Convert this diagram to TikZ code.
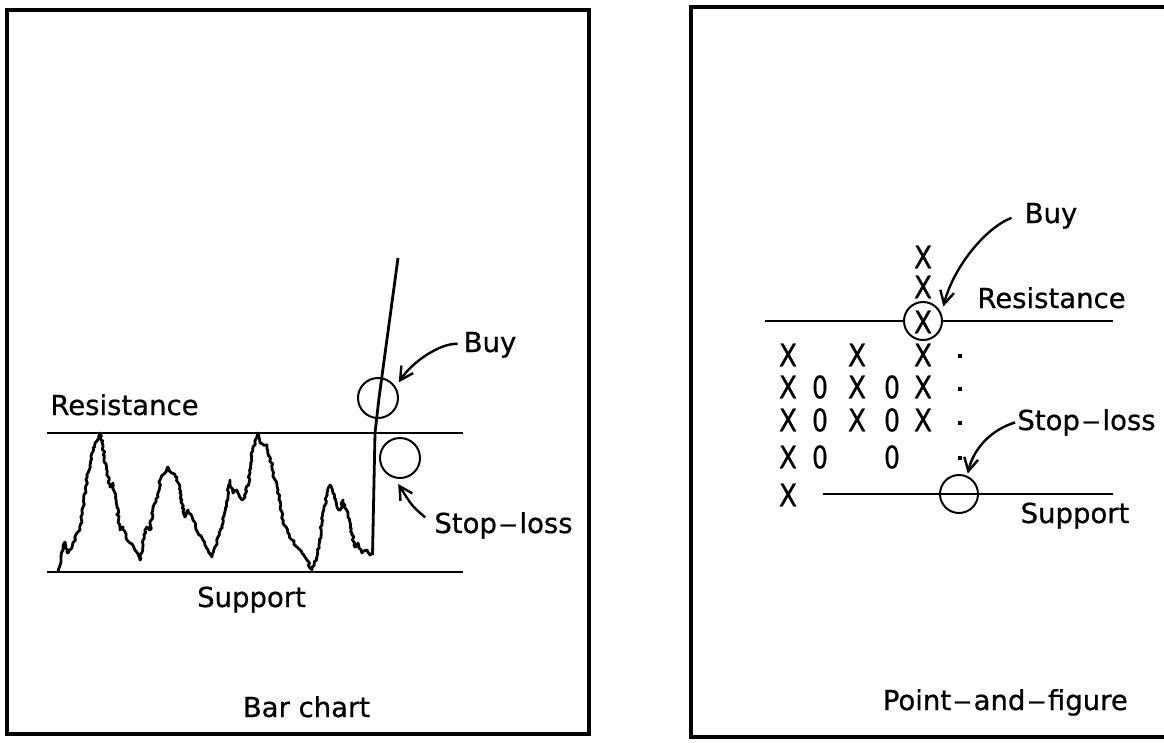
\documentclass[tikz,border=0pt]{standalone}
\usepackage{fontspec}
\usepackage{graphicx}
\setmainfont{DejaVu Sans}
\newfontfamily\lblfont{DejaVu Sans}[FakeBold=0.7]
\newcommand{\ldash}{\kern2pt\scalebox{1.35}[1]{–}\kern2pt}
\usetikzlibrary{arrows.meta,calc,decorations.pathmorphing}
\begin{document}
\begin{tikzpicture}[x=1pt,y=-1pt,
  lbl/.style={font=\lblfont\fontsize{27.5}{30}\selectfont, inner sep=0pt, anchor=base},
  frame/.style={line width=3.4pt},
  level/.style={line width=2.6pt},
  ring/.style={circle, draw, line width=2pt, minimum size=40pt, inner sep=0pt},
  arr/.style={line width=2.4pt, -{Straight Barb[length=13pt,width=14pt,line width=2.4pt]}},
  pf/.style={font=\lblfont\fontsize{31}{31}\selectfont, inner sep=0pt},
  pdot/.style={fill, minimum size=4.5pt, inner sep=0pt},
  price/.style={line width=2.8pt, line join=round, decorate, decoration={random steps, segment length=2.5pt, amplitude=1.2pt}},
]
\useasboundingbox (0,0) rectangle (1164,742);
\pgfmathsetseed{11}
% ---------- frames
\draw[frame] (7,10) rectangle (589,734);
\draw[frame] (691,7) rectangle (1200,737);

% ---------- bar chart
\draw[level] (47,433) -- (463,433);
\draw[level] (47,572) -- (463,572);
\draw[price] (58,572) -- (65,542) -- (68,553) -- (72,547) -- (77,533) -- (80,530) -- (83,507) -- (88,473) -- (92,453) -- (95,443) -- (100,433)
 -- (103,447) -- (107,473) -- (110,487) -- (113,483) -- (117,507) -- (120,530) -- (123,527) -- (127,540) -- (130,543) -- (135,550) -- (140,560)
 -- (143,540) -- (147,527) -- (150,530) -- (153,507) -- (158,497) -- (160,480) -- (165,473) -- (168,467) -- (172,473) -- (177,477) -- (180,493)
 -- (185,517) -- (188,510) -- (193,520) -- (198,533) -- (203,540) -- (208,550) -- (212,557) -- (215,547) -- (218,537) -- (223,523) -- (230,480)
 -- (233,493) -- (237,490) -- (242,500) -- (245,497) -- (250,473) -- (253,447) -- (257,437) -- (258,433) -- (260,443) -- (267,445) -- (270,457)
 -- (275,480) -- (278,490) -- (283,523) -- (288,533) -- (292,540) -- (297,547) -- (302,553) -- (307,560) -- (312,570) -- (317,557) -- (322,523)
 -- (327,493) -- (330,485) -- (333,493) -- (337,507) -- (340,510) -- (343,500) -- (348,517) -- (352,533) -- (355,547) -- (358,543) -- (362,553)
 -- (367,550) -- (370,555) -- (372.5,553);
\draw[line width=2.8pt, line join=round] (372.5,555) -- (375,433) -- (379,398) -- (398,258);

\node[ring] (bc1) at (378,398) {};
\node[ring] (sc1) at (400,458) {};

\node[lbl] (res1) at (124.5,415) {Resistance};
\node[lbl] (sup1) at (251.5,607) {Support};
\node[lbl] (cap1) at (306.5,717) {Bar chart};
\node[lbl] (buy1) at (490,352) {Buy};
\node[lbl] (stop1) at (503.5,533) {Stop\ldash loss};

\draw[arr] ($(buy1.west)+(-6,-1)$) .. controls (440,343) and (412,362) .. ($(bc1.37)+(4,-3)$);
\draw[arr] ($(stop1.west)+(-9,-8)$) .. controls (412,506) .. ($(sc1.-95)+(0,5)$);

% ---------- point and figure
\node[ring, minimum size=38pt] (pbuy) at (923,321) {};
\node[ring, minimum size=38pt] (pstop) at (959,494) {};
\draw[level] (765,321) -- (pbuy.west);
\draw[level] (pbuy.east) -- (1113,321);
\draw[level] (823,494) -- (1113,494);

% column 5 (top)
\node[pf] (xa5) at (923,257) {\scalebox{0.85}[1]{X}};
\node[pf] (xb5) at (923,287) {\scalebox{0.85}[1]{X}};
\node[pf] (xc5) at (923,322) {\scalebox{0.85}[1]{X}};
% row D
\node[pf] (xd1) at (788,355) {\scalebox{0.85}[1]{X}};
\node[pf] (xd3) at (857,355) {\scalebox{0.85}[1]{X}};
\node[pf] (xd5) at (923,355) {\scalebox{0.85}[1]{X}};
\node[pdot] (dd) at (960,356) {};
% row E
\node[pf] (xe1) at (788,387) {\scalebox{0.85}[1]{X}};
\node[pf] (oe2) at (820,387) {\scalebox{0.8}[1]{0}};
\node[pf] (xe3) at (857,387) {\scalebox{0.85}[1]{X}};
\node[pf] (oe4) at (892,387) {\scalebox{0.8}[1]{0}};
\node[pf] (xe5) at (923,387) {\scalebox{0.85}[1]{X}};
\node[pdot] (de) at (960,389) {};
% row F
\node[pf] (xf1) at (788,420) {\scalebox{0.85}[1]{X}};
\node[pf] (of2) at (820,420) {\scalebox{0.8}[1]{0}};
\node[pf] (xf3) at (857,420) {\scalebox{0.85}[1]{X}};
\node[pf] (of4) at (892,420) {\scalebox{0.8}[1]{0}};
\node[pf] (xf5) at (923,420) {\scalebox{0.85}[1]{X}};
\node[pdot] (df) at (960,423) {};
% row G
\node[pf] (xg1) at (788,457) {\scalebox{0.85}[1]{X}};
\node[pf] (og2) at (820,457) {\scalebox{0.8}[1]{0}};
\node[pf] (og4) at (892,457) {\scalebox{0.8}[1]{0}};
\node[pdot] (dg) at (960,458) {};
% row H
\node[pf] (xh1) at (788,495) {\scalebox{0.85}[1]{X}};

\node[lbl] (buy2) at (1051,223) {Buy};
\node[lbl] (res2) at (1051.5,308) {Resistance};
\node[lbl] (stop2) at (1086.5,430) {Stop\ldash loss};
\node[lbl] (sup2) at (1075,523) {Support};
\node[lbl, anchor=base east] (cap2) at (1128,710) {Point\ldash and\ldash figure};

\draw[arr] ($(buy2.west)+(-13,2)$) .. controls (985,228) and (953,268) .. ($(pbuy.35)+(4,-3)$);
\draw[arr] ($(stop2.west)+(-2,0)$) .. controls (990,430) and (973,450) .. ($(pstop.67)+(1,-2)$);
\end{tikzpicture}
\end{document}
